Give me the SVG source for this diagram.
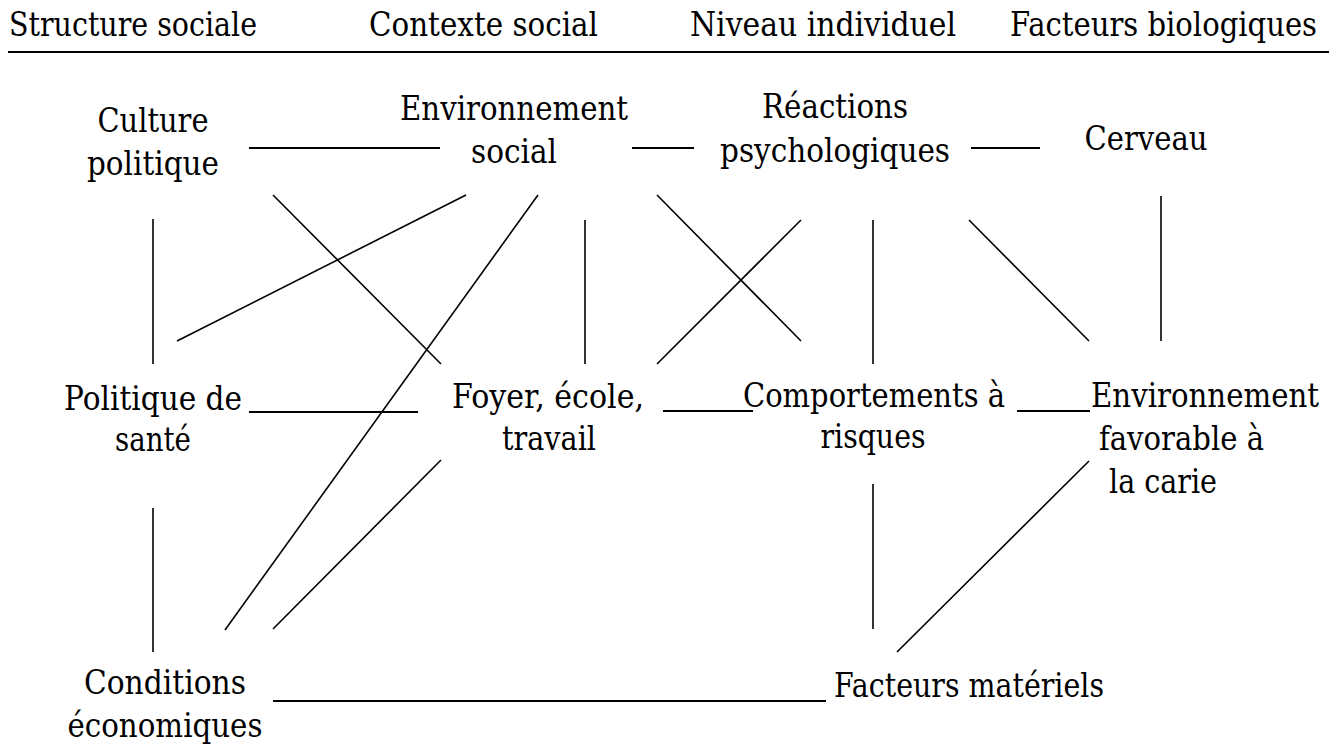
<svg xmlns="http://www.w3.org/2000/svg" width="1339" height="747" viewBox="0 0 1339 747">
<style>
text{font-family:"DejaVu Serif","Liberation Serif",serif;font-size:34px;fill:#000}
.c{text-anchor:middle}
.s{font-size:31px}
.ln{stroke:#000;stroke-width:1.6;fill:none}
.h{stroke:#000;stroke-width:2;fill:none}
</style>
<rect width="1339" height="747" fill="#fff"/>
<g id="header">
<text x="9" y="36" textLength="248" lengthAdjust="spacingAndGlyphs">Structure sociale</text>
<text x="369" y="36" textLength="229" lengthAdjust="spacingAndGlyphs">Contexte social</text>
<text x="690" y="36" textLength="266" lengthAdjust="spacingAndGlyphs">Niveau individuel</text>
<text class="s" transform="translate(1010,36) scale(1,1.097)" x="0" y="0" textLength="307" lengthAdjust="spacingAndGlyphs">Facteurs biologiques</text>
<line class="h" x1="8" y1="52" x2="1329" y2="52"/>
</g>
<g id="culture-politique">
<text class="c" x="153" y="132" textLength="111" lengthAdjust="spacingAndGlyphs">Culture</text>
<text class="c" x="153" y="175" textLength="132" lengthAdjust="spacingAndGlyphs">politique</text>
</g>
<g id="environnement-social">
<text class="c" x="514" y="120" textLength="228" lengthAdjust="spacingAndGlyphs">Environnement</text>
<text class="c" x="514" y="163" textLength="86" lengthAdjust="spacingAndGlyphs">social</text>
</g>
<g id="reactions-psychologiques">
<text class="c" x="835" y="118" textLength="146" lengthAdjust="spacingAndGlyphs">Réactions</text>
<text class="c" x="835" y="162" textLength="230" lengthAdjust="spacingAndGlyphs">psychologiques</text>
</g>
<g id="cerveau">
<text class="c" x="1146" y="150" textLength="123" lengthAdjust="spacingAndGlyphs">Cerveau</text>
</g>
<g id="politique-sante">
<text class="c" x="153" y="410" textLength="178" lengthAdjust="spacingAndGlyphs">Politique de</text>
<text class="c" x="153" y="451" textLength="76" lengthAdjust="spacingAndGlyphs">santé</text>
</g>
<g id="foyer-ecole-travail">
<text class="c" x="548" y="408" textLength="192" lengthAdjust="spacingAndGlyphs">Foyer, école,</text>
<text class="c" x="549" y="450" textLength="94" lengthAdjust="spacingAndGlyphs">travail</text>
</g>
<g id="comportements-risques">
<text class="c" x="874" y="407" textLength="262" lengthAdjust="spacingAndGlyphs">Comportements à</text>
<text class="c" x="873" y="448" textLength="105" lengthAdjust="spacingAndGlyphs">risques</text>
</g>
<g id="environnement-favorable">
<text class="s" transform="translate(1091,407) scale(1,1.097)" x="0" y="0" textLength="228" lengthAdjust="spacingAndGlyphs">Environnement</text>
<text x="1099" y="450" textLength="165" lengthAdjust="spacingAndGlyphs">favorable à</text>
<text x="1109" y="493" textLength="108" lengthAdjust="spacingAndGlyphs">la carie</text>
</g>
<g id="conditions-economiques">
<text class="c" x="165" y="694" textLength="162" lengthAdjust="spacingAndGlyphs">Conditions</text>
<text class="c" x="165" y="737" textLength="195" lengthAdjust="spacingAndGlyphs">économiques</text>
</g>
<g id="facteurs-materiels">
<text x="834" y="697" textLength="270" lengthAdjust="spacingAndGlyphs">Facteurs matériels</text>
</g>
<g id="connectors">
<line class="h" x1="249" y1="148" x2="440" y2="148"/>
<line class="h" x1="632" y1="148" x2="694" y2="148"/>
<line class="h" x1="971" y1="148" x2="1040" y2="148"/>
<line class="ln" x1="153" y1="219" x2="153" y2="364"/>
<line class="ln" x1="466" y1="195" x2="177" y2="341"/>
<line class="ln" x1="273" y1="195" x2="441" y2="364"/>
<line class="ln" x1="538" y1="195" x2="225" y2="630"/>
<line class="ln" x1="585" y1="220" x2="585" y2="364"/>
<line class="ln" x1="657" y1="195" x2="801" y2="341"/>
<line class="ln" x1="801" y1="220" x2="657" y2="364"/>
<line class="ln" x1="873" y1="220" x2="873" y2="364"/>
<line class="ln" x1="969" y1="220" x2="1089" y2="341"/>
<line class="ln" x1="1161" y1="196" x2="1161" y2="341"/>
<line class="h" x1="249" y1="412" x2="418" y2="412"/>
<line class="h" x1="663" y1="411" x2="753" y2="411"/>
<line class="h" x1="1017" y1="411" x2="1090" y2="411"/>
<line class="ln" x1="153" y1="508" x2="153" y2="652"/>
<line class="ln" x1="441" y1="460" x2="273" y2="629"/>
<line class="ln" x1="873" y1="484" x2="873" y2="629"/>
<line class="ln" x1="1089" y1="461" x2="897" y2="652"/>
<line class="h" x1="273" y1="701" x2="826" y2="701"/>
</g>
</svg>
